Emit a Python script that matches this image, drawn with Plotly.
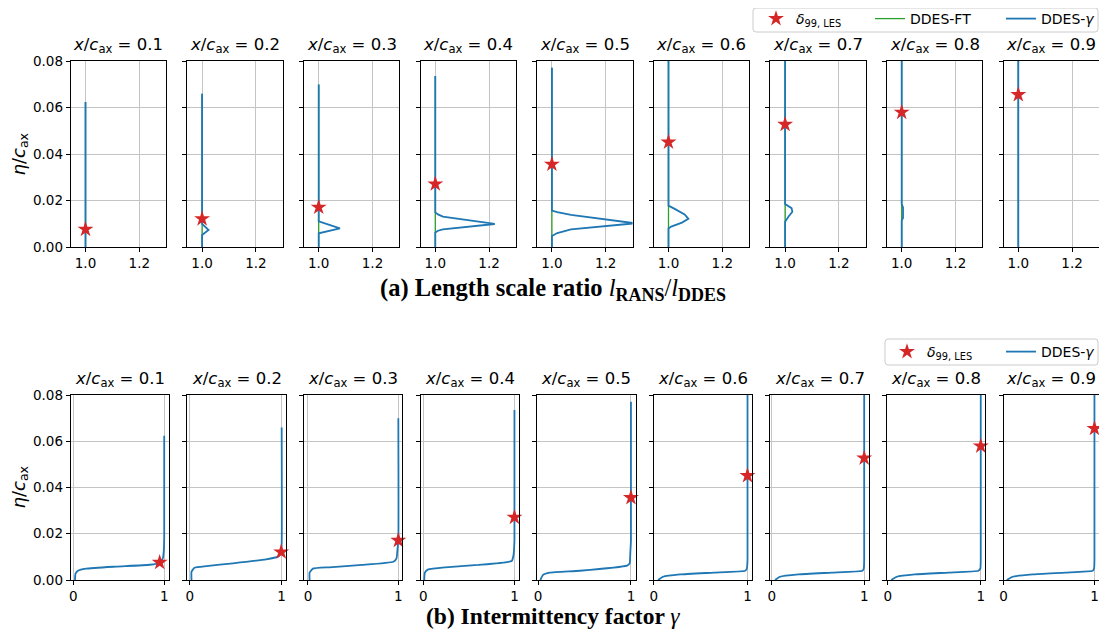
import plotly.graph_objects as go

# ---------------- data ----------------
stations = [0.1, 0.2, 0.3, 0.4, 0.5, 0.6, 0.7, 0.8, 0.9]
delta99_les = [0.0076, 0.0121, 0.0171, 0.0271, 0.0356, 0.0451, 0.0527, 0.0579, 0.0655]
gamma_at_delta99 = [0.95, 0.995, 1.0, 1.0, 1.0, 1.0, 1.0, 1.0, 1.0]
eta_top = [0.0624, 0.0659, 0.0699, 0.0735, 0.0771, 0.082, 0.086, 0.090, 0.094]

# length-scale ratio l_RANS/l_DDES, DDES-gamma (eta values without the top point)
ratio_eta = [
    [0.0],
    [0.0, 0.0052, 0.0073, 0.0099],
    [0.0, 0.0059, 0.0080, 0.0110],
    [0.0, 0.0062, 0.0070, 0.0076, 0.0099, 0.0131, 0.0140, 0.0149],
    [0.0, 0.0047, 0.0060, 0.0076, 0.0102, 0.0138, 0.0150, 0.0157],
    [0.0, 0.0080, 0.0088, 0.0105, 0.0121, 0.0140, 0.0164, 0.0178],
    [0.0, 0.0109, 0.0131, 0.0151, 0.0167, 0.0185],
    [0.0, 0.0115, 0.0125, 0.0170, 0.0185],
    [0.0],
]
ratio_val = [
    [1.0],
    [1.0, 1.0, 1.024, 1.0],
    [1.0, 1.0, 1.079, 1.0],
    [1.0, 1.0, 1.01, 1.028, 1.221, 1.028, 1.01, 1.0],
    [1.0, 1.0, 1.02, 1.071, 1.31, 1.071, 1.02, 1.0],
    [1.0, 1.0, 1.01, 1.05, 1.074, 1.06, 1.023, 1.0],
    [1.0, 1.0, 1.013, 1.027, 1.024, 1.0],
    [1.0, 1.0, 1.005, 1.005, 1.0],
    [1.0],
]
ratio_ft = 1.0  # DDES-FT ratio stays at 1

# intermittency factor gamma, DDES-gamma (without top point)
gamma_eta = [
    [0.0, 0.0026, 0.0040, 0.0049, 0.0058, 0.0066, 0.0075, 0.0094, 0.0130, 0.0187],
    [0.0, 0.0036, 0.0053, 0.0060, 0.0072, 0.0089, 0.0101, 0.0115, 0.0158],
    [0.0, 0.0032, 0.0049, 0.0055, 0.0065, 0.0079, 0.0094, 0.0130, 0.0173],
    [0.0, 0.0032, 0.0046, 0.0055, 0.0065, 0.0082, 0.0108, 0.0173],
    [0.0, 0.0022, 0.0032, 0.0040, 0.0062, 0.0072, 0.0115, 0.0173],
    [0.0, 0.0014, 0.0024, 0.0032, 0.0040, 0.0050, 0.0086],
    [0.0, 0.0014, 0.0024, 0.0032, 0.0040, 0.0050, 0.0086],
    [0.0, 0.0014, 0.0024, 0.0032, 0.0040, 0.0050, 0.0086],
    [0.0, 0.0014, 0.0024, 0.0032, 0.0040, 0.0050, 0.0086],
]
gamma_val = [
    [0.018, 0.022, 0.05, 0.14, 0.47, 0.84, 0.95, 0.985, 0.996, 1.0],
    [0.018, 0.018, 0.05, 0.18, 0.47, 0.83, 0.96, 0.99, 1.0],
    [0.018, 0.018, 0.055, 0.236, 0.6, 0.945, 0.98, 0.99, 1.0],
    [0.011, 0.018, 0.055, 0.24, 0.6, 0.97, 0.99, 1.0],
    [0.025, 0.054, 0.126, 0.45, 0.957, 0.986, 0.993, 1.0],
    [0.046, 0.10, 0.28, 0.64, 0.975, 0.993, 1.0],
    [0.036, 0.09, 0.29, 0.65, 0.98, 0.996, 1.0],
    [0.036, 0.097, 0.29, 0.65, 0.975, 0.996, 1.0],
    [0.036, 0.10, 0.32, 0.68, 0.98, 0.996, 1.0],
]

gamma_xrange = [[-0.03, 1.055], [-0.028, 1.045], [-0.045, 1.045], [-0.03, 1.05],
                [-0.01, 1.05], [0.0, 1.05], [-0.015, 1.05], [-0.01, 1.05], [0.0, 1.05]]

# ---------------- style ----------------
PAGE_W, PAGE_H = 1107, 639
OFF = 8  # default body margin of the html page
W, H = PAGE_W - 2 * OFF, PAGE_H - 2 * OFF
BLUE, GREEN, RED = "#1f77b4", "#2ca02c", "#d62728"
GRID = "#c4c4c4"
FONT = "DejaVu Sans"
STAR_NAME = "<i>δ</i><sub>99, LES</sub>"

fig = go.Figure()


def px_x(p):
    return min(1.0, max(0.0, (p - OFF) / W))


def px_y(p):
    return min(1.0, max(0.0, 1 - (p - OFF) / H))


lefts = [70.7 + 116.6 * i for i in range(9)]
top_dom_y = [px_y(247), px_y(61)]
bot_dom_y = [px_y(580), px_y(395)]

axis_common = dict(showline=True, linecolor="black", linewidth=1, mirror=True,
                   ticks="outside", ticklen=4, tickwidth=1, tickcolor="black",
                   showgrid=True, gridcolor=GRID, gridwidth=1, zeroline=False,
                   tickfont=dict(family=FONT, size=13.5, color="black"))

layout_axes = {}
for i, st in enumerate(stations):
    for row in (0, 1):
        k = i + 1 + 9 * row
        xname = "xaxis" if k == 1 else f"xaxis{k}"
        yname = "yaxis" if k == 1 else f"yaxis{k}"
        xref = "x" if k == 1 else f"x{k}"
        yref = "y" if k == 1 else f"y{k}"
        width = 95.5 if row == 0 else 98.5
        xd = [px_x(lefts[i]), px_x(lefts[i] + width)]
        ydom = top_dom_y if row == 0 else bot_dom_y
        if row == 0:
            xa = dict(axis_common, domain=xd, anchor=yref, range=[0.945, 1.3],
                      tickvals=[1.0, 1.2], ticktext=["1.0", "1.2"])
        else:
            xa = dict(axis_common, domain=xd, anchor=yref, range=gamma_xrange[i],
                      tickvals=[0, 1], ticktext=["0", "1"])
        ya = dict(axis_common, domain=ydom, anchor=xref, range=[0, 0.08],
                  tickvals=[0, 0.02, 0.04, 0.06, 0.08],
                  ticktext=["0.00", "0.02", "0.04", "0.06", "0.08"],
                  showticklabels=(i == 0))
        layout_axes[xname] = xa
        layout_axes[yname] = ya

        # panel title
        fig.add_annotation(
            text=f"<i>x</i>/<i>c</i><sub>ax</sub> = {st}",
            xref="paper", yref="paper",
            x=(xd[0] + xd[1]) / 2,
            y=ydom[1] + 3 / H,
            xanchor="center", yanchor="bottom", showarrow=False,
            font=dict(family=FONT, size=16.5, color="black"))

        if row == 0:
            eta = ratio_eta[i] + [eta_top[i]]
            val = ratio_val[i] + [1.0]
            fig.add_trace(go.Scatter(
                x=[ratio_ft, ratio_ft], y=[0.0, eta_top[i]], mode="lines",
                line=dict(color=GREEN, width=1.3), name="DDES-FT",
                legend="legend2", showlegend=(i == 0),
                xaxis=xref, yaxis=yref))
            fig.add_trace(go.Scatter(
                x=val, y=eta, mode="lines",
                line=dict(color=BLUE, width=1.8), name="DDES-<i>γ</i>",
                legend="legend3", showlegend=(i == 0),
                xaxis=xref, yaxis=yref))
            fig.add_trace(go.Scatter(
                x=[1.0], y=[delta99_les[i]], mode="markers",
                marker=dict(symbol="star", size=12, color=RED, line=dict(width=0)),
                name=STAR_NAME, legend="legend", showlegend=(i == 0),
                xaxis=xref, yaxis=yref, cliponaxis=False))
        else:
            eta = gamma_eta[i] + [eta_top[i]]
            val = gamma_val[i] + [1.0]
            fig.add_trace(go.Scatter(
                x=val, y=eta, mode="lines",
                line=dict(color=BLUE, width=1.8, shape="spline", smoothing=0.4),
                name="DDES-<i>γ</i>", legend="legend5", showlegend=(i == 0),
                xaxis=xref, yaxis=yref))
            fig.add_trace(go.Scatter(
                x=[gamma_at_delta99[i]], y=[delta99_les[i]], mode="markers",
                marker=dict(symbol="star", size=12, color=RED, line=dict(width=0)),
                name=STAR_NAME, legend="legend4", showlegend=(i == 0),
                xaxis=xref, yaxis=yref, cliponaxis=False))

# y-axis labels
for yc in (154, 487):
    fig.add_annotation(text="<i>η</i>/<i>c</i><sub>ax</sub>", xref="paper", yref="paper",
                       x=px_x(19.5), y=px_y(yc), xanchor="center", yanchor="middle",
                       textangle=-90, showarrow=False,
                       font=dict(family=FONT, size=18, color="black"))

# captions
fig.add_annotation(
    text=("<b>(a) Length scale ratio </b><i>l</i>"
          "<sub><b><span style='font-size:18px'>RANS</span></b></sub>/<i>l</i>"
          "<sub><b><span style='font-size:18px'>DDES</span></b></sub>"),
    xref="paper", yref="paper", x=px_x(553), y=px_y(289), xanchor="center", yanchor="middle",
    showarrow=False, font=dict(family="Liberation Serif", size=24.5, color="black"))
fig.add_annotation(
    text="<b>(b) Intermittency factor </b><i>γ</i>",
    xref="paper", yref="paper", x=px_x(553), y=px_y(616), xanchor="center", yanchor="middle",
    showarrow=False, font=dict(family="Liberation Serif", size=23.5, color="black"))


# legend frames (rounded boxes)
def rounded_box(x0, y0, x1, y1, r=3):
    X0, X1 = px_x(x0), px_x(x1)
    Y0, Y1 = px_y(y0), px_y(y1)
    rx, ry = r / W, r / H
    return (f"M{X0 + rx},{Y0} L{X1 - rx},{Y0} Q{X1},{Y0} {X1},{Y0 - ry} "
            f"L{X1},{Y1 + ry} Q{X1},{Y1} {X1 - rx},{Y1} L{X0 + rx},{Y1} "
            f"Q{X0},{Y1} {X0},{Y1 + ry} L{X0},{Y0 - ry} Q{X0},{Y0} {X0 + rx},{Y0} Z")


for box in [(753, 6, 1098, 32), (885, 339, 1098, 365)]:
    fig.add_shape(type="path", path=rounded_box(*box), xref="paper", yref="paper",
                  line=dict(color="#cccccc", width=1), fillcolor="rgba(255,255,255,0.85)",
                  layer="above")

leg_base = dict(orientation="v", bgcolor="rgba(0,0,0,0)", borderwidth=0,
                font=dict(family=FONT, size=14, color="black"),
                xanchor="left", yanchor="middle")

fig.update_layout(
    width=W, height=H, margin=dict(l=0, r=0, t=0, b=0, autoexpand=False),
    paper_bgcolor="white", plot_bgcolor="white",
    legend=dict(leg_base, x=px_x(756), y=px_y(19)),
    legend2=dict(leg_base, x=px_x(870), y=px_y(19)),
    legend3=dict(leg_base, x=px_x(1001), y=px_y(19)),
    legend4=dict(leg_base, x=px_x(887), y=px_y(352)),
    legend5=dict(leg_base, x=px_x(1001), y=px_y(352)),
    **layout_axes)

fig.write_html("out.html")
